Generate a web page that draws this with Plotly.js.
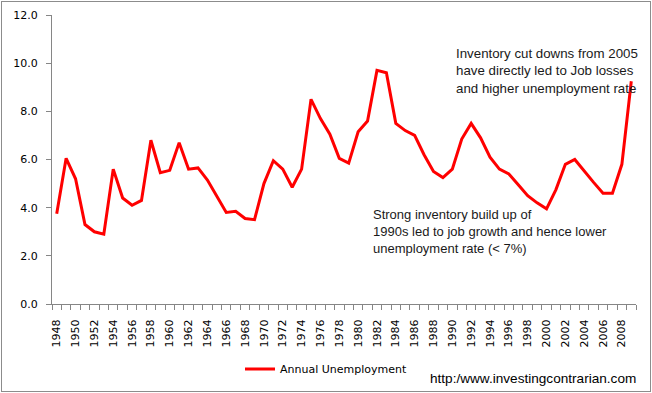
<!DOCTYPE html>
<html>
<head>
<meta charset="utf-8">
<script src="https://cdn.plot.ly/plotly-3.0.1.min.js"></script>
<style>
html,body{margin:0;padding:0;background:#fff;}
#wrap{position:absolute;left:1px;top:1px;width:648px;height:389px;border:1px solid #8c8c8c;}
#chart{width:648px;height:389px;}
</style>
</head>
<body>
<div id="wrap"><div id="chart"></div></div>
<script>
const years = [];
for (let y = 1948; y <= 2009; y++) years.push(y);
const unemployment = [3.75, 6.05, 5.2, 3.3, 3.0, 2.9, 5.6, 4.4, 4.1, 4.3,
  6.8, 5.45, 5.55, 6.7, 5.6, 5.65, 5.15, 4.5, 3.8, 3.85,
  3.55, 3.5, 5.0, 5.95, 5.6, 4.85, 5.6, 8.5, 7.7, 7.05,
  6.05, 5.85, 7.15, 7.6, 9.7, 9.6, 7.5, 7.2, 7.0, 6.2,
  5.5, 5.25, 5.6, 6.85, 7.5, 6.9, 6.1, 5.6, 5.4, 4.95,
  4.5, 4.2, 3.95, 4.75, 5.8, 6.0, 5.5, 5.05, 4.6, 4.6,
  5.8, 9.25];
const tickYears = years.filter(y => y % 2 === 0);
const tickLabels = tickYears.map(String);
const seriesName = "Annual Unemployment";
const note1 = "Inventory cut downs from 2005<br>have directly led to Job losses<br>and higher unemployment rate";
const note2 = "Strong inventory build up of<br>1990s led to job growth and hence lower<br>unemployment rate (< 7%)";
const sourceText = "http:/www.investingcontrarian.com";

const W = 648, H = 389;
const L = 50, R = 14, T = 13, B = 87;
const PW = W - L - R, PH = H - T - B;

const trace = {
  x: years, y: unemployment, type: 'scatter', mode: 'lines',
  name: seriesName,
  line: {color: '#ff0000', width: 3, shape: 'linear'}
};

const layout = {
  width: W, height: H,
  margin: {l: L, r: R, t: T, b: B, pad: 0, autoexpand: false},
  paper_bgcolor: '#ffffff', plot_bgcolor: '#ffffff',
  font: {family: 'DejaVu Sans, Verdana, sans-serif', size: 11, color: '#000000'},
  showlegend: true,
  legend: {
    orientation: 'h', x: (240 - 2 - L) / PW, xanchor: 'left',
    y: -(369 - 2 - T - PH) / PH, yanchor: 'middle',
    font: {family: 'DejaVu Sans, Verdana, sans-serif', size: 11, color: '#000000'},
    bgcolor: 'rgba(0,0,0,0)'
  },
  xaxis: {
    range: [1947.5, 2009.5], automargin: false,
    tickmode: 'array', tickvals: tickYears, ticktext: tickLabels,
    ticks: '', tickangle: -90, ticklabelstandoff: 10,
    showgrid: false, zeroline: false,
    showline: true, linecolor: '#868686', linewidth: 1,
    tickfont: {family: 'DejaVu Sans, Verdana, sans-serif', size: 11, color: '#000000'},
    minor: {tickmode: 'linear', tick0: 1947.5, dtick: 1, ticks: 'outside', ticklen: 5, tickcolor: '#868686', tickwidth: 1, showgrid: false}
  },
  yaxis: {
    range: [0, 12], dtick: 2, tick0: 0, tickformat: '.1f', automargin: false,
    ticks: 'outside', ticklen: 5, tickcolor: '#868686', ticklabelstandoff: 6,
    showgrid: false, zeroline: false,
    showline: true, linecolor: '#868686', linewidth: 1,
    tickfont: {family: 'DejaVu Sans, Verdana, sans-serif', size: 11, color: '#000000'}
  },
  annotations: [
    {text: note1, xref: 'paper', yref: 'paper', x: (454 - 2 - L) / PW, y: 1 - (44 - 2 - T) / PH,
     xanchor: 'left', yanchor: 'top', align: 'left', showarrow: false,
     font: {family: 'Liberation Sans, Arial, sans-serif', size: 13.3, color: '#1a1a1a'}},
    {text: note2, xref: 'paper', yref: 'paper', x: (371 - 2 - L) / PW, y: 1 - (205 - 2 - T) / PH,
     xanchor: 'left', yanchor: 'top', align: 'left', showarrow: false,
     font: {family: 'Liberation Sans, Arial, sans-serif', size: 13, color: '#1a1a1a'}},
    {text: sourceText, xref: 'paper', yref: 'paper', x: (638 - 2 - L) / PW, y: -(378 - 2 - T - PH) / PH,
     xanchor: 'right', yanchor: 'middle', align: 'right', showarrow: false,
     font: {family: 'Liberation Sans, Arial, sans-serif', size: 13.6, color: '#000000'}}
  ]
};

Plotly.newPlot('chart', [trace], layout, {displayModeBar: false, staticPlot: true});
</script>
</body>
</html>
